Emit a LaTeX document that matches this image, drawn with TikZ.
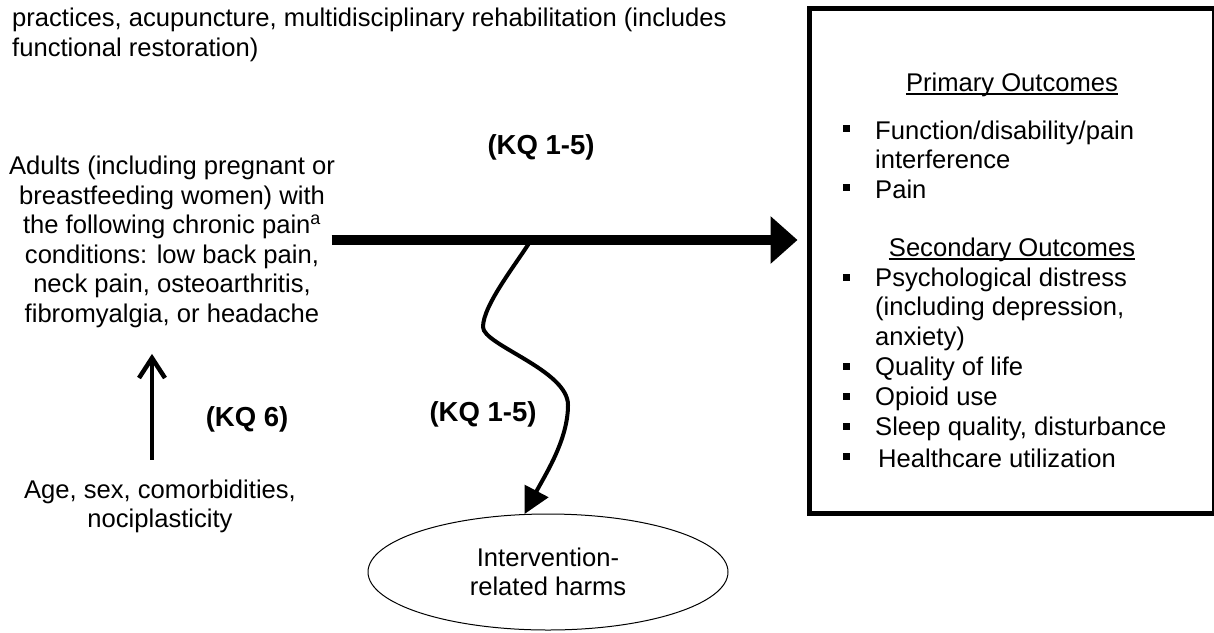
\documentclass[tikz,border=0pt]{standalone}
\usepackage{fontspec}
\setmainfont{Liberation Sans}
\usetikzlibrary{arrows.meta,shapes.geometric}
\begin{document}
\begin{tikzpicture}[x=1pt,y=-1pt,
  txt/.style={inner sep=0pt, font=\fontsize{25.6}{29.5}\selectfont},
  lbl/.style={inner sep=0pt, font=\fontsize{27.5}{30}\selectfont\bfseries},
  mainarrow/.style={line width=10pt, -{Triangle[length=27pt,width=46pt]}},
  wavyarrow/.style={line width=4pt, -{Triangle[length=26pt,width=26pt]}},
  modarrow/.style={line width=4.5pt, -{Straight Barb[length=20pt,width=26pt]}},
  bul/.style={fill=black, inner sep=0pt, minimum size=7pt},
  outbox/.style={draw, line width=5pt, minimum width=405pt, minimum height=504.5pt, inner sep=0pt},
  harmsell/.style={draw, ellipse, line width=1pt, minimum width=360pt, minimum height=116pt, inner sep=0pt, align=center},
  uline/.style={line width=1.5pt},
]
\useasboundingbox (0,0) rectangle (1214,632);

% top text (interventions, partly cut off)
\node[txt, anchor=west, align=left] (interv) at (12,35)
  {practices, acupuncture, multidisciplinary rehabilitation (includes\\functional restoration)};

% population
\node[txt, align=center] (adults) at (172,242)
  {Adults (including pregnant or\\breastfeeding women) with\\the following chronic pain\textsuperscript{a}\\conditions: low back pain,\\neck pain, osteoarthritis,\\fibromyalgia, or headache};

% modifiers
\node[txt, align=center] (ages) at (160,506.5)
  {Age, sex, comorbidities,\\nociplasticity};

% outcomes box
\node[outbox] (box) at (1012,260.75) {};

\node[txt] (po) at (1012,84.5) {Primary Outcomes};
\draw[uline] ([yshift=-3pt]po.base west) -- ([yshift=-3pt]po.base east);

\node[bul] (b1) at (846,128) {};
\node[txt, anchor=west, align=left] (o1) at (875,145) {Function/disability/pain\\interference};
\node[bul] (b2) at (846,187) {};
\node[txt, anchor=west] (o2) at (875,189.5) {Pain};

\node[txt] (so) at (1012,249.5) {Secondary Outcomes};
\draw[uline] ([yshift=-3pt]so.base west) -- ([yshift=-3pt]so.base east);

\node[bul] (b3) at (846,277) {};
\node[txt, anchor=west, align=left] (o3) at (875,309) {Psychological distress\\(including depression,\\anxiety)};
\node[bul] (b4) at (846,366) {};
\node[txt, anchor=west] (o4) at (875,368.5) {Quality of life};
\node[bul] (b5) at (846,396) {};
\node[txt, anchor=west] (o5) at (875,398.5) {Opioid use};
\node[bul] (b6) at (846,426) {};
\node[txt, anchor=west] (o6) at (875,428.5) {Sleep quality, disturbance};
\node[bul] (b7) at (846,456) {};
\node[txt, anchor=west] (o7) at (878,458.5) {Healthcare utilization};

% harms
\node[harmsell, font=\fontsize{25.6}{29.5}\selectfont] (harms) at (548,572) {Intervention-\\related harms};

% labels
\node[lbl] (kqa) at (541,147.5) {(KQ 1-5)};
\node[lbl] (kqb) at (483,414.5) {(KQ 1-5)};
\node[lbl] (kqc) at (247,419.5) {(KQ 6)};

% connectors
\coordinate (mainstart) at ([xshift=-3.5pt,yshift=2pt]adults.east);
\draw[mainarrow, shorten >=9.5pt] (mainstart) -- (mainstart -| box.west);
\coordinate (branch) at (531,240);
\draw[wavyarrow] (branch) .. controls (517,263) and (483,305) .. (483,327)
  .. controls (483,345) and (568,370) .. (568,405)
  .. controls (568,440) and (545,475) .. (harms.112);
\draw[modarrow, shorten >=26pt] ([xshift=-8pt,yshift=20pt]ages.north) -- ([xshift=-8pt]ages.north |- adults.south);
\end{tikzpicture}
\end{document}
